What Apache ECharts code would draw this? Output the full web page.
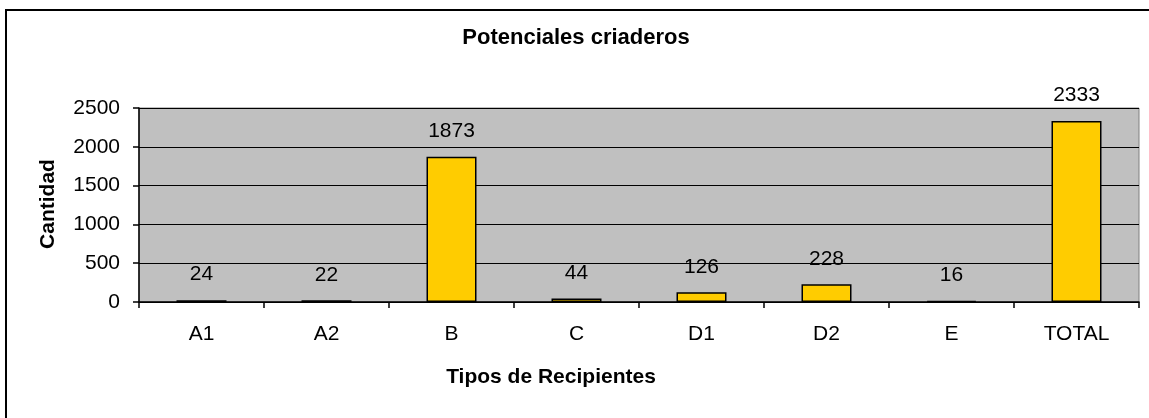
<!DOCTYPE html>
<html>
<head>
<meta charset="utf-8">
<script src="https://cdn.jsdelivr.net/npm/echarts@6/dist/echarts.min.js"></script>
<style>
html,body{margin:0;padding:0;background:#fff;}
#c{width:1149px;height:418px;}
</style>
</head>
<body>
<div id="c"></div>
<script>
const categories = ['A1','A2','B','C','D1','D2','E','TOTAL'];
const values = [24, 22, 1873, 44, 126, 228, 16, 2333];
const yTicks = [0, 500, 1000, 1500, 2000, 2500];
const titleText = 'Potenciales criaderos';
const xName = 'Tipos de Recipientes';
const yName = 'Cantidad';

const FONT = 'Liberation Sans, Arial, sans-serif';
const chart = echarts.init(document.getElementById('c'));
chart.setOption({
  animation: false,
  backgroundColor: '#fff',
  grid: {
    left: 139, top: 108, width: 1000, height: 194,
    show: true, backgroundColor: '#C0C0C0', borderColor: '#808080', borderWidth: 1,
    containLabel: false
  },
  xAxis: {
    type: 'category',
    data: categories,
    boundaryGap: true,
    axisLine: { lineStyle: { color: '#000', width: 1.5 } },
    axisTick: { show: true, length: 6, alignWithLabel: false, lineStyle: { color: '#000', width: 1.5 } },
    axisLabel: { color: '#000', fontSize: 21, fontFamily: FONT, margin: 22, interval: 0 },
    splitLine: { show: false }
  },
  yAxis: {
    type: 'value',
    min: yTicks[0], max: yTicks[yTicks.length - 1], interval: 500,
    axisLine: { show: true, lineStyle: { color: '#000', width: 1.5 } },
    axisTick: { show: true, length: 6, lineStyle: { color: '#000', width: 1.5 } },
    axisLabel: { color: '#000', fontSize: 21, fontFamily: FONT, margin: 19, formatter: v => String(v) },
    splitLine: { show: true, lineStyle: { color: '#000', width: 1 } }
  },
  series: [{
    type: 'bar',
    data: values,
    barWidth: 50,
    itemStyle: { color: '#FFCC00', borderColor: '#000', borderWidth: 1.5 },
    label: {
      show: true, position: 'top', distance: 15,
      color: '#000', fontSize: 21, fontFamily: FONT
    }
  }],
  graphic: [
    { type: 'rect', shape: { x: 6, y: 10, width: 1200, height: 500 },
      style: { fill: 'none', stroke: '#000', lineWidth: 2 }, silent: true, z: 100 },
    { type: 'text', x: 576, y: 38,
      style: { text: titleText, font: 'bold 22px ' + FONT, fill: '#000', textAlign: 'center', textVerticalAlign: 'middle' } },
    { type: 'text', x: 551, y: 377,
      style: { text: xName, font: 'bold 21px ' + FONT, fill: '#000', textAlign: 'center', textVerticalAlign: 'middle' } },
    { type: 'text', x: 48, y: 204, rotation: Math.PI / 2,
      style: { text: yName, font: 'bold 21px ' + FONT, fill: '#000', textAlign: 'center', textVerticalAlign: 'middle' } }
  ]
});
</script>
</body>
</html>
